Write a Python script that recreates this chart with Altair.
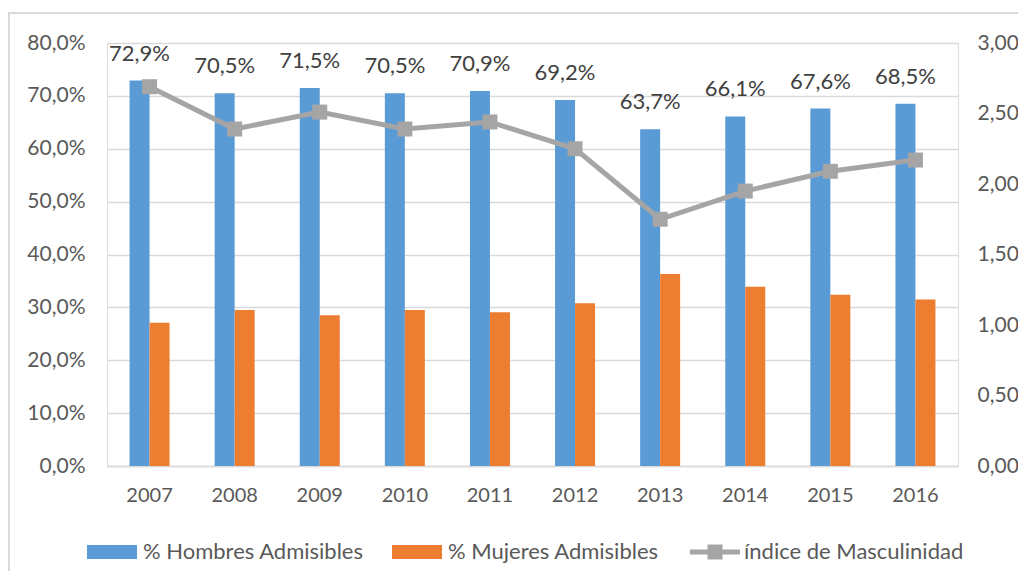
import altair as alt
import pandas as pd

years = ["2007", "2008", "2009", "2010", "2011", "2012", "2013", "2014", "2015", "2016"]
hombres = [72.9, 70.5, 71.5, 70.5, 70.9, 69.2, 63.7, 66.1, 67.6, 68.5]
mujeres = [27.1, 29.5, 28.5, 29.5, 29.1, 30.8, 36.3, 33.9, 32.4, 31.5]
indice = [2.69, 2.39, 2.51, 2.39, 2.44, 2.25, 1.75, 1.95, 2.09, 2.17]
series_names = ["% Hombres Admisibles", "% Mujeres Admisibles"]
line_name = "índice de Masculinidad"
bar_colors = ["#5B9BD5", "#ED7D31"]
line_color = "#A5A5A5"

bars_df = pd.DataFrame(
    {"year": years * 2,
     "serie": [series_names[0]] * len(years) + [series_names[1]] * len(years),
     "valor": hombres + mujeres}
)
line_df = pd.DataFrame({"year": years, "indice": indice, "serie": [line_name] * len(years)})

FONT = "Lato"
FS = 20
TXT = "#595959"

x_enc = alt.X(
    "year:N", sort=years,
    scale=alt.Scale(paddingInner=0.53, paddingOuter=0.265),
    axis=alt.Axis(title=None, labelAngle=0, domain=True, domainColor="#d9d9d9",
                  domainWidth=1.5, ticks=False, labelPadding=19, labelFontSize=FS,
                  labelColor=TXT, grid=False),
)
x_off = alt.XOffset("serie:N", sort=series_names,
                    scale=alt.Scale(domain=series_names, paddingInner=0, paddingOuter=0))

y_left = alt.Y(
    "valor:Q",
    scale=alt.Scale(domain=[0, 80], nice=False),
    axis=alt.Axis(title=None, values=[0, 10, 20, 30, 40, 50, 60, 70, 80],
                  labelExpr="replace(format(datum.value, '.1f'), '.', ',') + '%'",
                  domain=False, ticks=False, grid=True, gridColor="#d9d9d9",
                  gridWidth=1.5, labelPadding=22, labelFontSize=21, labelColor=TXT),
)

bars = alt.Chart(bars_df).mark_bar().encode(
    x=x_enc,
    xOffset=x_off,
    y=y_left,
    color=alt.Color(
        "serie:N",
        scale=alt.Scale(domain=series_names, range=bar_colors),
        legend=alt.Legend(
            orient="none", legendX=-20, legendY=484, direction="horizontal",
            title=None, symbolType="M-1,-0.28H1V0.28H-1Z", symbolSize=2500,
            symbolStrokeWidth=0, labelFontSize=22, labelColor=TXT, labelFont=FONT,
            columnPadding=28, labelOffset=6, labelLimit=0,
        ),
    ),
)

labels = alt.Chart(bars_df).transform_filter(
    alt.datum.serie == series_names[0]
).transform_calculate(
    label="replace(format(datum.valor, '.1f'), '.', ',') + '%'"
).mark_text(baseline="alphabetic", dy=-20, fontSize=22, color="#404040", font=FONT).encode(
    x=x_enc,
    xOffset=x_off,
    y=y_left,
    text="label:N",
)

y_right = alt.Y(
    "indice:Q",
    scale=alt.Scale(domain=[0, 3], nice=False),
    axis=alt.Axis(title=None, orient="right", values=[0, 0.5, 1, 1.5, 2, 2.5, 3],
                  labelExpr="replace(format(datum.value, '.2f'), '.', ',')",
                  domain=False, ticks=False, grid=False, labelPadding=19,
                  labelFontSize=21, labelColor=TXT),
)

line = alt.Chart(line_df).mark_line(strokeWidth=5).encode(
    x=x_enc,
    y=y_right,
    stroke=alt.Stroke(
        "serie:N",
        scale=alt.Scale(domain=[line_name], range=[line_color]),
        legend=alt.Legend(
            orient="none", legendX=583, legendY=484, direction="horizontal",
            title=None,
            symbolType="M-1,-0.1H-0.3V-0.3H0.3V-0.1H1V0.1H0.3V0.3H-0.3V0.1H-1Z",
            symbolSize=2500, symbolFillColor=line_color, symbolStrokeWidth=0,
            labelFontSize=22, labelColor=TXT, labelFont=FONT, labelOffset=4,
            labelLimit=0,
        ),
    ),
)

points = alt.Chart(line_df).mark_square(size=225, color=line_color, opacity=1, filled=True).encode(
    x=x_enc,
    y=y_right,
)

frame = alt.Chart(line_df).mark_rect(fill="transparent", stroke="#d9d9d9", strokeWidth=1.5).encode(
    x=alt.value(-98.5), x2=alt.value(1200), y=alt.value(-30), y2=alt.value(700)
)

left = alt.layer(frame, bars, labels)
right = alt.layer(line, points)

chart = alt.layer(left, right).resolve_scale(
    y="independent"
).properties(
    width=851, height=423,
    autosize=alt.AutoSizeParams(type="none"),
    padding={"left": 99, "top": 35, "right": 60, "bottom": 105},
).configure_view(stroke=None).configure(font=FONT)

chart.save("out.html", embed_options={"renderer": "svg", "actions": False})
